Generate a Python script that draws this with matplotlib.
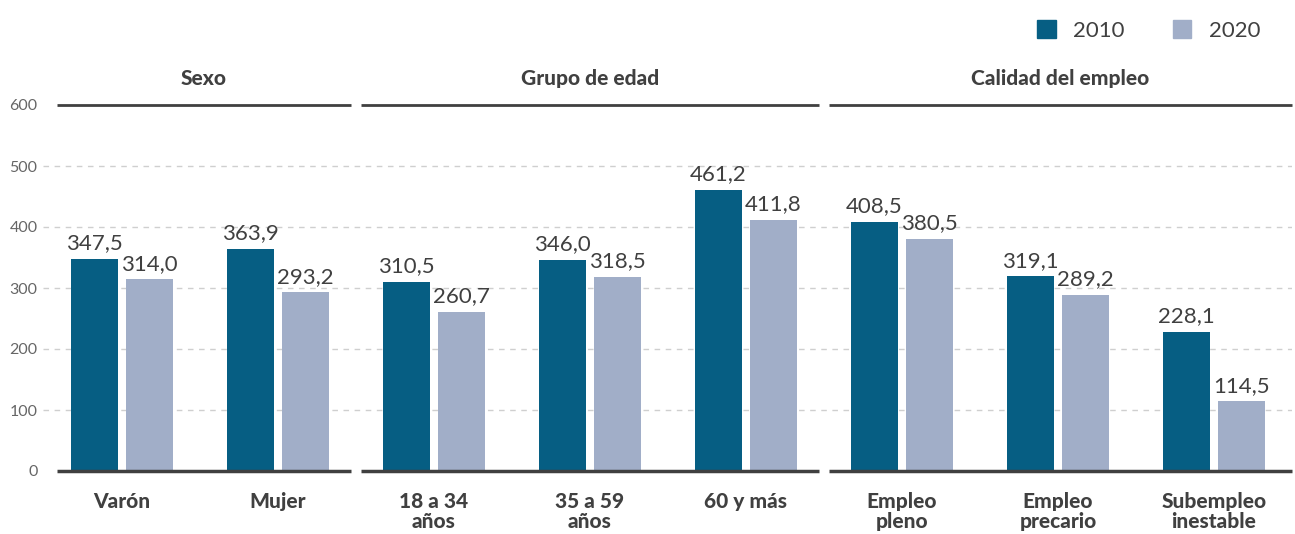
import numpy as np
import matplotlib
matplotlib.use("Agg")
from matplotlib import pyplot as plt
from matplotlib.patches import Patch

plt.rcParams['font.family'] = ['Lato', 'DejaVu Sans']

categorias = ["Varón", "Mujer", "18 a 34\naños", "35 a 59\naños", "60 y más",
              "Empleo\npleno", "Empleo\nprecario", "Subempleo\ninestable"]
v2010 = [347.5, 363.9, 310.5, 346.0, 461.2, 408.5, 319.1, 228.1]
v2020 = [314.0, 293.2, 260.7, 318.5, 411.8, 380.5, 289.2, 114.5]
grupos = ["Sexo", "Grupo de edad", "Calidad del empleo"]
grupo_rango = [(-0.417, 1.47), (1.53, 4.47), (4.53, 7.5)]
yticks = [0, 100, 200, 300, 400, 500, 600]

c2010 = '#065e83'
c2020 = '#a1aec8'
texto = '#404040'

fig = plt.figure(figsize=(12.95, 5.34), dpi=100)
ax = fig.add_axes([43 / 1295, 63 / 534, (1292 - 43) / 1295, 366 / 534])

x = np.arange(len(categorias))
off = 0.176
w = 0.30
ax.bar(x - off, v2010, w, color=c2010, zorder=3)
ax.bar(x + off, v2020, w, color=c2020, zorder=3)

def fmt(v):
    return ("%.1f" % v).replace(".", ",")

for xi, a, b in zip(x, v2010, v2020):
    ax.text(xi - off, a + 9, fmt(a), ha='center', va='bottom', fontsize=16, color=texto, zorder=4)
    ax.text(xi + off, b + 9, fmt(b), ha='center', va='bottom', fontsize=16, color=texto, zorder=4)

ax.set_xlim(-0.506, 7.5)
ax.set_ylim(0, 600)

# gridlines
for yt in yticks[1:-1]:
    ax.axhline(yt, color='#cfcfcf', lw=1, ls=(0, (4, 4)), zorder=1)

# group lines (top and base)
for nombre, (g0, g1) in zip(grupos, grupo_rango):
    ax.plot([g0, g1], [600, 600], color=texto, lw=2, zorder=4, clip_on=False, solid_capstyle='butt')
    ax.plot([g0, g1], [0, 0], color=texto, lw=2.5, zorder=4, clip_on=False, solid_capstyle='butt')
    ax.text((g0 + g1) / 2, 643, nombre, ha='center', va='center', fontsize=15,
            fontweight='black', color=texto)

ax.set_yticks(yticks)
ax.set_yticklabels([str(t) for t in yticks], fontsize=11.5, color='#666666')
ax.tick_params(axis='y', length=0, pad=4)
ax.set_xticks(x)
ax.set_xticklabels(categorias, fontsize=15, fontweight='black', color=texto, linespacing=1.08)
ax.tick_params(axis='x', length=0, pad=15)
for s in ax.spines.values():
    s.set_visible(False)

handles = [Patch(color=c2010, label='2010'), Patch(color=c2020, label='2020')]
fig.legend(handles=handles, loc='upper right', bbox_to_anchor=(0.989, 1.0), ncol=2, frameon=False,
           fontsize=16, handlelength=0.85, handleheight=0.85, columnspacing=2.15, handletextpad=0.8,
           labelcolor=texto)

fig.savefig("out.png", dpi=100)
